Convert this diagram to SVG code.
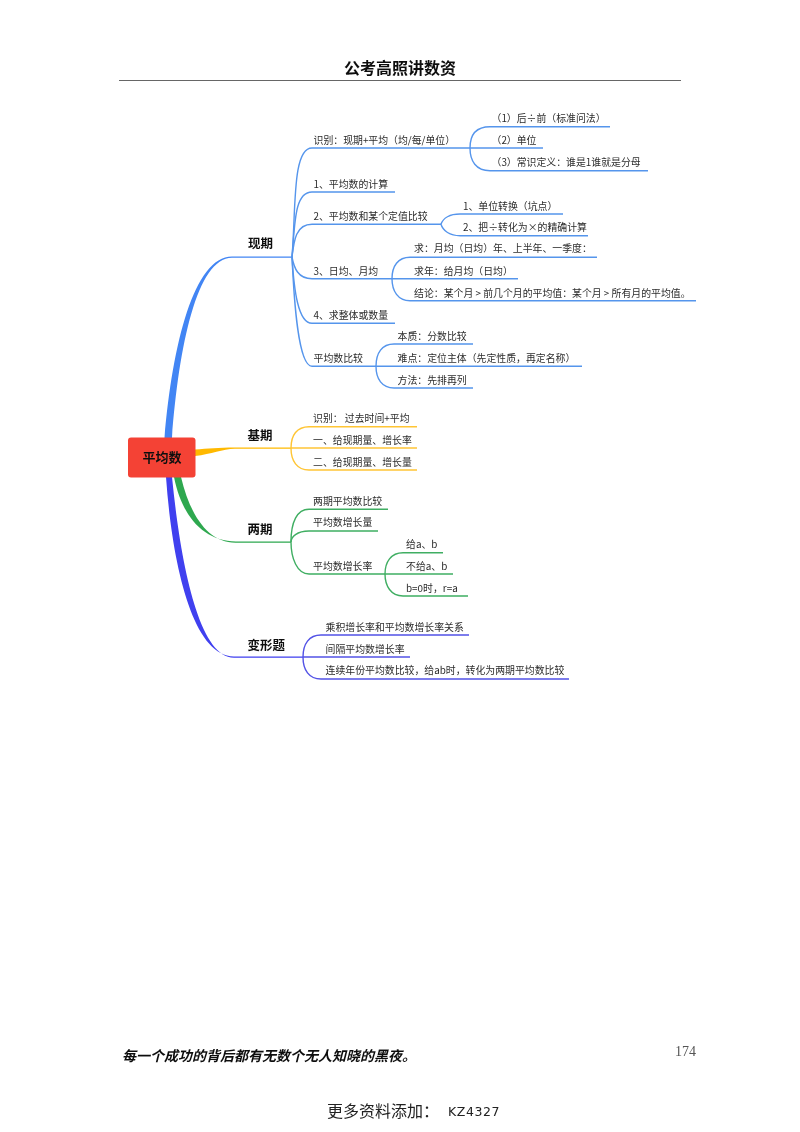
<svg xmlns="http://www.w3.org/2000/svg" width="800" height="1132" viewBox="0 0 800 1132">
<defs>
<filter id="soft" x="0" y="0" width="800" height="1132" filterUnits="userSpaceOnUse"><feGaussianBlur stdDeviation="0.45"/></filter>
</defs>
<style>
text{font-family:"Noto Sans CJK SC","Liberation Sans",sans-serif;fill:#2b2b2b;font-size:9.9px}
.cat{font-size:12.500px;font-weight:700;fill:#111}
.root{font-size:13px;font-weight:700;fill:#111;text-anchor:middle}
.l{fill:none;stroke-width:1.4}
.b{stroke:#5595EC}.y{stroke:#FFC534}.g{stroke:#3FAE62}.p{stroke:#5252E6}
</style>
<rect width="800" height="1132" fill="#fff"/>
<g filter="url(#soft)">
<g id="header">
<text x="400" y="73.500" text-anchor="middle" style="font-size:16px;font-weight:700;fill:#111">公考高照讲数资</text>
<line x1="119" y1="80.500" x2="681" y2="80.500" stroke="#666" stroke-width="1.2"/>
</g>
<g id="connectors">
<path fill="#4285F4" d="M164.500,438C172.500,344 194,256.500 232,256.500L292,256.500V257.700L232,257.700C197,257.700 179,346 172,438Z"/>
<path fill="#FFB900" d="M195,449.500C208,448.500 218,447.400 235,447.400L291,447.500V448.700L235,448.700C222,449 212,454 195,456Z"/>
<path fill="#2FA84F" d="M174,477C182,517 204,541.400 236,541.400L291,541.500V542.700L236,542.700C208,543 190,515 181,477Z"/>
<path fill="#3F3FEF" d="M166,477C172,562 192,656.400 234,656.400L303,656.500V657.700L234,657.700C198,657.700 180,558 172,477Z"/>
<path class="l b" d="M292,257C296,210 292,148 312,148H470"/>
<path class="l b" d="M292,257C295,225 294,192 312,192H395"/>
<path class="l b" d="M292,257C294,240 296,224.300 312,224.300H441"/>
<path class="l b" d="M292,257C294,268 298,278.700 312,278.700H392"/>
<path class="l b" d="M292,257C294,290 298,323.300 312,323.300H395"/>
<path class="l b" d="M292,257C294,300 298,366.300 312,366.300H376"/>
<path class="l b" d="M470,148C470,135 476,126.700 490,126.700H610"/>
<path class="l b" d="M470,148H543"/>
<path class="l b" d="M470,148C470,161 476,170.700 490,170.700H648"/>
<path class="l b" d="M441,224.300C443,218 450,214 460,214H563"/>
<path class="l b" d="M441,224.300C443,231 450,235.700 460,235.700H588"/>
<path class="l b" d="M392,278.700C392,266 398,257.300 410,257.300H597"/>
<path class="l b" d="M392,278.700H518"/>
<path class="l b" d="M392,278.700C392,291 398,300.700 410,300.700H696"/>
<path class="l b" d="M376,366.300C376,353 382,344 394,344H473"/>
<path class="l b" d="M376,366.300H582"/>
<path class="l b" d="M376,366.300C376,379 382,388 394,388H473"/>
<path class="l y" d="M291,448C291,435 297,426.700 309,426.700H417"/>
<path class="l y" d="M291,448H417"/>
<path class="l y" d="M291,448C291,461 297,470 309,470H417"/>
<path class="l g" d="M291,542C291,522 297,509.300 309,509.300H388"/>
<path class="l g" d="M291,542C291,537 297,531 309,531H378"/>
<path class="l g" d="M291,542C291,558 297,574 309,574H385"/>
<path class="l g" d="M385,574C385,562 391,552.700 403,552.700H443"/>
<path class="l g" d="M385,574H453"/>
<path class="l g" d="M385,574C385,586 391,596 403,596H468"/>
<path class="l p" d="M303,657C303,644 309,635 321,635H469"/>
<path class="l p" d="M303,657H410"/>
<path class="l p" d="M303,657C303,670 309,679 321,679H569"/>
</g>
<g id="root"><rect x="128" y="437.500" width="67.500" height="40" rx="3" fill="#F44336"/><text class="root" x="162" y="461.500">平均数</text></g>
<g id="xianqi"><text class="cat" x="248" y="248">现期</text></g>
<g id="jiqi"><text class="cat" x="247.500" y="440">基期</text></g>
<g id="liangqi"><text class="cat" x="247.500" y="534">两期</text></g>
<g id="bianxing"><text class="cat" x="247.500" y="649.500">变形题</text></g>
<g id="n-shibie"><text x="313.500" y="144">识别：现期+平均（均/每/单位）</text></g>
<g id="n-s1"><text x="491.500" y="122">（1）后÷前（标准问法）</text></g>
<g id="n-s2"><text x="491.500" y="144">（2）单位</text></g>
<g id="n-s3"><text x="491.500" y="166">（3）常识定义：谁是1谁就是分母</text></g>
<g id="n-calc"><text x="313.500" y="188">1、平均数的计算</text></g>
<g id="n-cmp"><text x="313.500" y="220">2、平均数和某个定值比较</text></g>
<g id="n-cmp1"><text x="463" y="210">1、单位转换（坑点）</text></g>
<g id="n-cmp2"><text x="463" y="231">2、把÷转化为×的精确计算</text></g>
<g id="n-day"><text x="313.500" y="275">3、日均、月均</text></g>
<g id="n-day1"><text x="414" y="252">求：月均（日均）年、上半年、一季度：</text></g>
<g id="n-day2"><text x="414" y="275">求年：给月均（日均）</text></g>
<g id="n-day3"><text x="414" y="297">结论：某个月 &gt; 前几个月的平均值：某个月 &gt; 所有月的平均值。</text></g>
<g id="n-total"><text x="313.500" y="318.500">4、求整体或数量</text></g>
<g id="n-avgcmp"><text x="313.500" y="362">平均数比较</text></g>
<g id="n-avg1"><text x="397.500" y="340">本质：分数比较</text></g>
<g id="n-avg2"><text x="397.500" y="362">难点：定位主体（先定性质，再定名称）</text></g>
<g id="n-avg3"><text x="397.500" y="384">方法：先排再列</text></g>
<g id="n-j1"><text x="313" y="422">识别： 过去时间+平均</text></g>
<g id="n-j2"><text x="313" y="444">一、给现期量、增长率</text></g>
<g id="n-j3"><text x="313" y="466">二、给现期量、增长量</text></g>
<g id="n-l1"><text x="313" y="505">两期平均数比较</text></g>
<g id="n-l2"><text x="313" y="526">平均数增长量</text></g>
<g id="n-l3"><text x="313" y="570">平均数增长率</text></g>
<g id="n-l31"><text x="406" y="548">给a、b</text></g>
<g id="n-l32"><text x="406" y="570">不给a、b</text></g>
<g id="n-l33"><text x="406" y="592">b=0时，r=a</text></g>
<g id="n-b1"><text x="325.500" y="631">乘积增长率和平均数增长率关系</text></g>
<g id="n-b2"><text x="325.500" y="653">间隔平均数增长率</text></g>
<g id="n-b3"><text x="325.500" y="674">连续年份平均数比较，给ab时，转化为两期平均数比较</text></g>
<g id="footer">
<text x="122" y="1061" style="font-size:14px;font-weight:700;font-style:italic;fill:#111">每一个成功的背后都有无数个无人知晓的黑夜。</text>
<text x="696" y="1055.500" text-anchor="end" style="font-family:'Liberation Serif',serif;font-size:14px;fill:#555">174</text>
<text x="327" y="1116.500" style="font-size:16px;fill:#222">更多资料添加：</text>
<text x="448" y="1115.500" style="font-family:'DejaVu Sans',sans-serif;font-size:12.500px;letter-spacing:.6px;fill:#222">KZ4327</text>
</g>
</g>
</svg>
